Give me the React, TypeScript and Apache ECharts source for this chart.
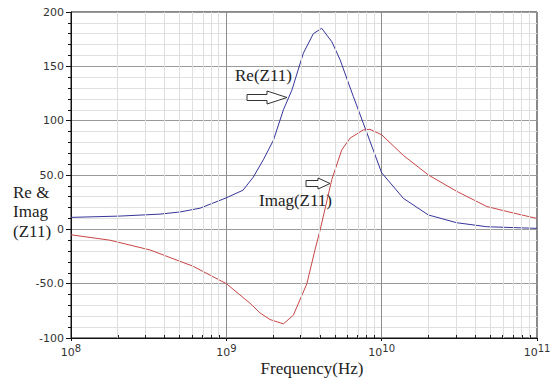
import React, { useEffect, useRef } from "react";
import * as echarts from "echarts";

// Frequency (Hz) and values
const reFreq = [1e8, 2.07e8, 3.74e8, 5.04e8, 6.78e8, 1.0e9, 1.28e9, 1.49e9, 1.73e9, 2.01e9, 2.33e9, 2.64e9, 3.13e9, 3.63e9, 4.11e9, 4.78e9, 5.4e9, 6.58e9, 8.02e9, 1e10, 1.38e10, 2.0e10, 3.04e10, 4.75e10, 1e11];
const reVals = [11, 12.2, 14, 16, 19.5, 29, 36, 48, 64, 82, 110, 128, 162, 180, 185, 172.6, 156, 122, 89, 52, 28.5, 13.2, 6.1, 2.4, 0.9];

const imFreq = [1e8, 1.78e8, 3.23e8, 6.11e8, 1.0e9, 1.42e9, 1.65e9, 1.91e9, 2.33e9, 2.7e9, 3.3e9, 3.72e9, 4.01e9, 4.78e9, 5.53e9, 6.27e9, 7.62e9, 8.41e9, 1e10, 1.38e10, 2.0e10, 3.04e10, 4.75e10, 7.05e10, 1e11];
const imVals = [-5, -10, -19, -34, -50, -68, -77, -83, -87, -79, -50, -19, -1, 46, 73, 84, 91.5, 92, 87, 68, 50, 35, 21, 15, 10];

const yTicks = [-100, -50, 0, 50, 100, 150, 200];
const yTickLabels = ["-100", "-50.0", "0", "50.0", "100", "150", "200"];
const decades = [8, 9, 10, 11];
const minorMultipliers = [2, 3, 4, 5, 6, 7, 8, 9];

const yLabel = ["Re &", "Imag", "(Z11)"];
const xName = "Frequency(Hz)";
const reName = "Re(Z11)";
const imName = "Imag(Z11)";

const SERIF = '"Liberation Serif", "DejaVu Serif", serif';
const SANS = '"DejaVu Sans", sans-serif';

export default function App() {
  const ref = useRef<HTMLDivElement>(null);
  useEffect(() => {
    if (!ref.current) return;
    const chart = echarts.init(ref.current, null, { renderer: "svg" });

    const minorLogs: number[] = [];
    for (let d = 0; d < decades.length - 1; d++) {
      for (const m of minorMultipliers) minorLogs.push(decades[d] + Math.log10(m));
    }
    const gridLines = minorLogs.map((v) => ({ xAxis: v }));
    const tickLines = minorLogs.map((v) => [
      { coord: [v, -100], lineStyle: { color: "#222", width: 1, type: "solid" } },
      { coord: [v, -97.2] },
    ]);

    const reData = reFreq.map((f, i) => [Math.log10(f), reVals[i]]);
    const imData = imFreq.map((f, i) => [Math.log10(f), imVals[i]]);

    const option: any = {
      animation: false,
      backgroundColor: "#fff",
      grid: {
        left: 71,
        right: 23,
        top: 12,
        bottom: 45,
        show: true,
        borderColor: "#111",
        borderWidth: 1,
      },
      xAxis: {
        type: "value",
        min: 8,
        max: 11,
        interval: 1,
        axisLine: { show: true, onZero: false, lineStyle: { color: "#111", width: 1 } },
        axisTick: { show: true, length: 3, lineStyle: { color: "#111" } },
        splitLine: { show: true, lineStyle: { color: "#8c8c8c", width: 1 } },
        axisLabel: {
          margin: 5,
          formatter: (v: number) => `{b|10}{s|${Math.round(v)}}`,
          rich: {
            b: { fontFamily: SANS, fontSize: 11, color: "#333" },
            s: { fontFamily: SANS, fontSize: 10, color: "#333", padding: [0, 0, 8, 0] },
          },
        },
      },
      yAxis: {
        type: "value",
        min: -100,
        max: 200,
        interval: 50,
        axisLine: { show: true, onZero: false, lineStyle: { color: "#111", width: 1 } },
        axisTick: { show: true, length: 5, lineStyle: { color: "#111" } },
        minorTick: { show: true, splitNumber: 5, length: 3, lineStyle: { color: "#111" } },
        splitLine: { show: true, lineStyle: { color: "#9a9a9a", width: 1 } },
        minorSplitLine: { show: true, lineStyle: { color: "#e0e0e0", width: 1 } },
        axisLabel: {
          margin: 7,
          fontFamily: SANS,
          fontSize: 11,
          color: "#333",
          formatter: (v: number) => {
            const i = yTicks.indexOf(v);
            return i >= 0 ? yTickLabels[i] : "";
          },
        },
      },
      series: [
        {
          type: "line",
          name: "minor",
          data: [],
          z: 1,
          silent: true,
          markLine: {
            silent: true,
            symbol: ["none", "none"],
            label: { show: false },
            animation: false,
            lineStyle: { color: "#dedede", width: 1, type: "solid" },
            emphasis: { disabled: true },
            data: [...gridLines, ...tickLines],
          },
        },
        {
          type: "line",
          name: reName,
          data: reData,
          showSymbol: false,
          smooth: false,
          z: 3,
          lineStyle: { color: "#35359a", width: 1 },
        },
        {
          type: "line",
          name: imName,
          data: imData,
          showSymbol: false,
          smooth: false,
          z: 3,
          lineStyle: { color: "#c84646", width: 1 },
        },
      ],
      graphic: [
        {
          type: "text",
          x: 235,
          y: 75,
          z: 10,
          style: { text: reName, font: `17px ${SERIF}`, fill: "#222", verticalAlign: "middle" },
        },
        {
          type: "polygon",
          z: 10,
          shape: {
            points: [[247, 94.5], [267, 94.5], [267, 91], [287, 97.5], [267, 104], [267, 100.5], [247, 100.5]],
          },
          style: { fill: "#fff", stroke: "#333", lineWidth: 1 },
        },
        {
          type: "text",
          x: 259,
          y: 200.5,
          z: 10,
          style: { text: imName, font: `17px ${SERIF}`, fill: "#222", verticalAlign: "middle" },
        },
        {
          type: "polygon",
          z: 10,
          shape: {
            points: [[306, 180.5], [318, 180.5], [318, 178], [330, 183.5], [318, 189], [318, 186.5], [306, 186.5]],
          },
          style: { fill: "#fff", stroke: "#333", lineWidth: 1 },
        },
        ...yLabel.map((t, i) => ({
          type: "text",
          x: 13,
          y: 192.5 + i * 19.3,
          z: 10,
          style: { text: t, font: `17px ${SERIF}`, fill: "#222", verticalAlign: "middle" },
        })),
        {
          type: "text",
          x: 312,
          y: 368.5,
          z: 10,
          style: { text: xName, font: `17px ${SERIF}`, fill: "#222", align: "center", verticalAlign: "middle" },
        },
      ],
    };
    chart.setOption(option);
    return () => chart.dispose();
  }, []);
  return (
    <div
      ref={ref}
      style={{ position: "fixed", left: 0, top: 0, width: 560, height: 383, background: "#fff" }}
    />
  );
}
